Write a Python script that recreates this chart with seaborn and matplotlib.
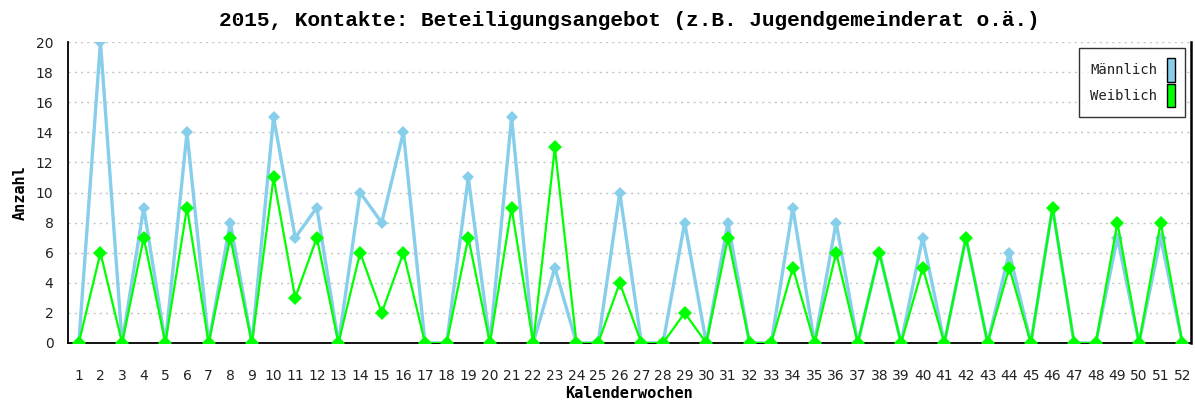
import numpy as np
import pandas as pd
import matplotlib
matplotlib.use("Agg")
import matplotlib.pyplot as plt
from matplotlib.patches import Patch
import seaborn as sns

# ---- data ----
weeks = list(range(1, 53))
maennlich = [0, 20, 0, 9, 0, 14, 0, 8, 0, 15, 7, 9, 0, 10, 8, 14, 0, 0, 11, 0,
             15, 0, 5, 0, 0, 10, 0, 0, 8, 0, 8, 0, 0, 9, 0, 8, 0, 6, 0, 7,
             0, 7, 0, 6, 0, 9, 0, 0, 7, 0, 7, 0]
weiblich = [0, 6, 0, 7, 0, 9, 0, 7, 0, 11, 3, 7, 0, 6, 2, 6, 0, 0, 7, 0,
            9, 0, 13, 0, 0, 4, 0, 0, 2, 0, 7, 0, 0, 5, 0, 6, 0, 6, 0, 5,
            0, 7, 0, 5, 0, 9, 0, 0, 8, 0, 8, 0]
series_names = ["Männlich", "Weiblich"]
colors = ["#87CEEB", "#00FF00"]
title = "2015, Kontakte: Beteiligungsangebot (z.B. Jugendgemeinderat o.ä.)"
xlabel = "Kalenderwochen"
ylabel = "Anzahl"
yticks = list(range(0, 21, 2))

df = pd.DataFrame({"Woche": weeks, "Männlich": maennlich, "Weiblich": weiblich})

sns.set_style("white")
plt.rcParams["font.family"] = ["DejaVu Sans"]
plt.rcParams["text.color"] = "black"
plt.rcParams["axes.labelcolor"] = "black"

fig = plt.figure(figsize=(11.95, 4.03), dpi=100)
ax = fig.add_axes([68 / 1195, 60 / 403, (1191 - 68) / 1195, (343 - 42) / 403])

sns.lineplot(data=df, x="Woche", y="Männlich", ax=ax, color=colors[0],
             linewidth=2.4, marker="D", markersize=5.8, markeredgewidth=0,
             zorder=3)
sns.lineplot(data=df, x="Woche", y="Weiblich", ax=ax, color=colors[1],
             linewidth=1.6, marker="D", markersize=7.0, markeredgewidth=0,
             zorder=4)

ax.set_xlim(0.5, 52.4)
ax.set_ylim(0, 20)
ax.set_yticks(yticks)
ax.set_xticks(weeks)
ax.set_xticklabels([str(w) for w in weeks])
ax.tick_params(axis="x", which="major", length=0, pad=19, labelsize=10,
               colors="#222222")
ax.set_xticks(np.linspace(0.5, 52.4, 11), minor=True)
ax.tick_params(axis="x", which="minor", direction="inout", length=9,
               width=1.2, color="black")
ax.tick_params(axis="y", which="major", direction="inout", length=9,
               width=1.2, color="black", pad=6, labelsize=10,
               labelcolor="#222222")

ax.yaxis.grid(True, linestyle=(0, (1.5, 3)), color="#c4c4c4", linewidth=1,
              zorder=0)
ax.set_axisbelow(True)

for side in ["left", "bottom", "right"]:
    ax.spines[side].set_visible(True)
    ax.spines[side].set_color("black")
    ax.spines[side].set_linewidth(1.3)
ax.spines["right"].set_linewidth(1.8)
ax.spines["top"].set_visible(False)

ax.set_xlabel(xlabel, family="DejaVu Sans Mono", fontweight="bold",
              fontsize=11, labelpad=2, color="black")
ax.set_ylabel(ylabel, family="DejaVu Sans Mono", fontweight="bold",
              fontsize=11, labelpad=6, color="black")
fig.text((68 + 1191) / 2 / 1195, 1 - 20 / 403, title, ha="center",
         va="center", family="Liberation Mono", fontweight="bold",
         fontsize=15.2, color="black")

handles = [Patch(facecolor=c, edgecolor="black", linewidth=1) for c in colors]
leg = ax.legend(handles, series_names, loc="upper right",
                bbox_to_anchor=(0.995, 0.98), borderaxespad=0,
                markerfirst=False, handlelength=0.6, handleheight=2.2,
                labelspacing=0.15, handletextpad=0.7, borderpad=0.75,
                prop={"family": "DejaVu Sans Mono", "size": 10},
                frameon=True, fancybox=False)
leg.get_frame().set_edgecolor("black")
leg.get_frame().set_linewidth(1)
for t in leg.get_texts():
    t.set_color("#222222")

fig.savefig("out.png", dpi=100, facecolor="white")
